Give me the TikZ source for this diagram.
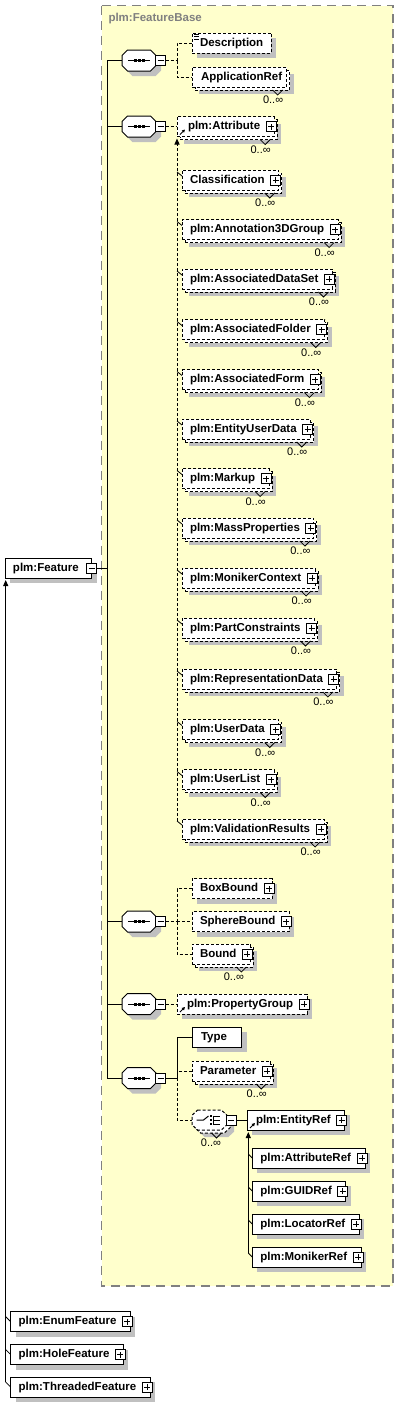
\documentclass[tikz,border=0pt]{standalone}
\usepackage{fontspec}
\setmainfont{Liberation Sans}
\usetikzlibrary{shadows,arrows.meta}
\definecolor{bgyellow}{RGB}{255,255,204}
\definecolor{bordergray}{RGB}{128,128,128}
\definecolor{shgray}{RGB}{192,192,192}
\tikzset{
  elfont/.style={font=\bfseries\fontsize{11.5}{13}\selectfont},
  dsh/.style={dash pattern=on 3pt off 2pt},
  base/.style={elfont, draw=black, fill=white, line width=1pt, minimum height=20pt,
    inner xsep=0pt, inner ysep=0pt, outer sep=0pt, text height=8.5pt, text depth=2.5pt, anchor=west},
  shad/.style={general shadow={fill=shgray, draw=none, shadow xshift=5pt, shadow yshift=-5pt}},
  shadm/.style={general shadow={fill=shgray, draw=none, shadow xshift=7pt, shadow yshift=-7pt},
    general shadow={fill=white, draw=black, line width=1pt, dsh, shadow xshift=3pt, shadow yshift=-3pt}},
  req/.style={base, solid, shad},
  opt/.style={base, dsh, shad},
  optm/.style={base, dsh, shadm},
  pad/.style 2 args={execute at begin node={\hspace*{#1pt}}, execute at end node={\hspace*{#2pt}}},
  mult/.style={font=\fontsize{11}{12}\selectfont, inner sep=0pt, anchor=east},
  anchorbox/.style={draw=none, fill=none, inner sep=0pt, outer sep=0pt, minimum width=#1pt, minimum height=20pt},
  minusbox/.style={draw=black, solid, fill=white, minimum size=10pt, inner sep=0pt, outer sep=0pt,
    line width=1pt, path picture={\draw[black, solid, line width=1pt]
      ([xshift=2pt]path picture bounding box.west) -- ([xshift=-2pt]path picture bounding box.east);}},
  pics/octa/.style={code={
    \path[pic actions] (-11.5,10.5) -- (11.5,10.5) -- (17,5) -- (17,-5) -- (11.5,-10.5)
      -- (-11.5,-10.5) -- (-17,-5) -- (-17,5) -- cycle;}},
  pics/plusicon/.style={code={
    \draw[solid, line width=1pt, fill=white] (-5,-5) rectangle (5,5);
    \draw[solid, line width=1pt] (-3,0) -- (3,0) (0,-3) -- (0,3);}},
  pics/seqicon/.style={code={
    \draw[solid, line width=1pt] (-11,0) -- (11,0);
    \foreach \dx in {-4,0,4} {\fill (\dx-1.5,-1.5) rectangle (\dx+1.5,1.5);}}},
  pics/choiceicon/.style={code={
    \draw[solid, line width=1pt] (-13,0) -- (-6,0) -- (-1,4);
    \foreach \dy in {-4,0,4} {\fill (0.5,\dy-1) rectangle (2.5,\dy+1);}
    \draw[solid, line width=1pt] (4,4.5) -- (4,-4.5) (4,4) -- (10,4) (4,0) -- (10,0) (4,-4) -- (10,-4);}},
  pics/refarrow/.style={code={
    \draw[solid, line width=0.8pt, -{Triangle[length=3pt,width=3pt]}] (3,2) -- (8,7);}},
  pics/notch/.style={code={
    \draw[solid, line width=0.8pt] (-14,-3) -- (-9,-8) -- (-4,-3);}},
  pics/docicon/.style={code={
    \draw[solid, line width=0.7pt] (2,-1) -- (7,-1) (2,-3.5) -- (7,-3.5) (2,-6) -- (7,-6);}},
  uparrow/.style={-{Triangle[length=6pt,width=5pt]}},
}
\begin{document}
\begin{tikzpicture}[x=1pt,y=1pt,line width=1pt]
\useasboundingbox (0,0) rectangle (399,-1403);
\draw[bordergray, line width=1.5pt, dash pattern=on 9pt off 6pt, fill=bgyellow] (101.5,-5.5) rectangle (393,-1286);
\node[elfont, text=bordergray, anchor=west, inner sep=0pt] (fb) at (108,-19) {plm:FeatureBase};

% ---- Feature and its derived types
\node[req, pad={8}{13}] (feat) at (5,-568) {plm:Feature};
\node[minusbox] (featm) at (feat.east) {};
\node[req, pad={8}{14}] (enumf) at (10.7,-1321.7) {plm:EnumFeature};
\node[req, pad={8}{14}] (holef) at (10.7,-1354.5) {plm:HoleFeature};
\node[req, pad={8}{14}] (threadf) at (10.7,-1387) {plm:ThreadedFeature};
\foreach \n in {enumf,holef,threadf} {\pic at ([xshift=-3]\n.east) {plusicon};}

% ---- sequences (octagons)
\foreach \n/\yy in {s1/60.5, s2/126.5, s3/921.5, s4/1004, s5/1078} {
  \pic[fill=shgray, draw=none] at (144,-\yy-5) {octa};
  \pic[fill=white, draw=black, solid, line width=1pt] at (139,-\yy) {octa};
  \node[anchorbox=34] (\n) at (139,-\yy) {};
  \node[minusbox, anchor=west] (\n m) at ([xshift=-0.5]\n.east) {};
  \pic at (\n.center) {seqicon};
}

% ---- sequence 1
\node[opt, pad={8}{8}] (desc) at (192,-43) {Description};
\pic at (desc.north west) {docicon};
\node[optm, pad={9}{4.5}] (appref) at (192,-77) {ApplicationRef};
\node[mult] (appref-m) at ([shift={(-3,-13)}]appref.south east) {0..∞};
\pic at (appref.south east) {notch};

% ---- sequence 2: plm:Attribute and its substitution group
\node[optm, pad={11}{14}] (attr) at (177,-126.5) {plm:Attribute};
\pic at ([xshift=-3]attr.east) {plusicon};
\pic at (attr.south west) {refarrow};
\pic at (attr.south east) {notch};
\node[mult] (attr-m) at ([shift={(-3,-13)}]attr.south east) {0..∞};
\foreach \n/\txt/\yy in {cls/Classification/180, ann/plm:Annotation3DGroup/229.5,
   ads/plm:AssociatedDataSet/279, afo/plm:AssociatedFolder/329.5, afm/plm:AssociatedForm/379.5,
   eud/plm:EntityUserData/429, mku/plm:Markup/478.5, mpr/plm:MassProperties/528,
   mnc/plm:MonikerContext/578, pco/plm:PartConstraints/628, rpd/plm:RepresentationData/679,
   usd/plm:UserData/729.5, usl/plm:UserList/779.5, val/plm:ValidationResults/829} {
  \node[optm, pad={8}{14}] (\n) at (182,-\yy) {\txt};
  \pic at ([xshift=-3]\n.east) {plusicon};
  \pic at (\n.south east) {notch};
  \node[mult] (\n-m) at ([shift={(-3,-13)}]\n.south east) {0..∞};
  \draw[line width=0.8pt] ([shift={(-5,8)}]\n.west) -- ([yshift=4]\n.west);
}

% ---- sequence 3
\node[opt, pad={8}{14}] (boxb) at (192,-888.5) {BoxBound};
\node[opt, pad={8}{14}] (sphb) at (192,-921.5) {SphereBound};
\node[optm, pad={8}{14}] (bound) at (192,-954) {Bound};
\foreach \n in {boxb,sphb,bound} {\pic at ([xshift=-3]\n.east) {plusicon};}
\pic at (bound.south east) {notch};
\node[mult] (bound-m) at ([shift={(-6,-13)}]bound.south east) {0..∞};

% ---- sequence 4
\node[opt, pad={10}{14}] (propg) at (177,-1004) {plm:PropertyGroup};
\pic at ([xshift=-3]propg.east) {plusicon};
\pic at (propg.south west) {refarrow};

% ---- sequence 5
\node[req, pad={9}{15}] (type) at (192,-1037) {Type};
\node[optm, pad={8}{14}] (param) at (192,-1071) {Parameter};
\pic at ([xshift=-3]param.east) {plusicon};
\pic at (param.south east) {notch};
\node[mult] (param-m) at ([shift={(-3,-13)}]param.south east) {0..∞};
% choice (dashed octagon, repeating)
\pic[fill=shgray, draw=none, xscale=35/34, yscale=20/21] at (216.5,-1127) {octa};
\pic[fill=white, draw=black, dsh, line width=1pt, xscale=35/34, yscale=20/21] at (212.5,-1123) {octa};
\pic[fill=white, draw=black, dsh, line width=1pt, xscale=35/34, yscale=20/21] at (209.5,-1120) {octa};
\node[anchorbox=35] (choice) at (209.5,-1120) {};
\pic at (choice.center) {choiceicon};
\draw[solid, line width=0.8pt] (211.5,-1133) -- (216.5,-1138) -- (221.5,-1133);
\node[mult] (choice-m) at ([shift={(12,-23)}]choice.center) {0..∞};
\node[minusbox, anchor=west] (choicem) at ([xshift=-1]choice.east) {};
\node[req, pad={9}{14}] (entref) at (247,-1120) {plm:EntityRef};
\pic at ([xshift=-3]entref.east) {plusicon};
\pic at (entref.south west) {refarrow};
\foreach \n/\txt/\yy in {attref/plm:AttributeRef/1158, guidref/plm:GUIDRef/1191,
   locref/plm:LocatorRef/1224, monref/plm:MonikerRef/1257} {
  \node[req, pad={8}{14}] (\n) at (252.3,-\yy) {\txt};
  \pic at ([xshift=-3]\n.east) {plusicon};
  \draw[line width=0.8pt] ([shift={(-4,4)}]\n.west) -- (\n.west);
}

% ---- connectors
\coordinate (tr1) at (107,-60.5);
\coordinate (tr5) at (107,-1078);
\draw (tr1) -- (tr5);
\draw (tr1) -- (s1.west);
\foreach \n in {s2,s3,s4} {\draw (\n.west) -- (\n.west -| tr1);}
\draw (tr5) -- (s5.west);
\draw (featm.east) -- (featm.east -| tr1);

\coordinate (j1) at (177,-60.5);
\draw[dsh] (s1m.east) -- (j1);
\draw[dsh] (desc.west) -| (j1);
\draw[dsh] (j1) |- (appref.west);

\draw[dsh] (s2m.east) -- (attr.west);
\draw[dsh, uparrow] ([shift={(-5,8)}]val.west) -- ([yshift=-2]attr.south west);

\coordinate (j3) at (177,-921.5);
\draw[dsh] (s3m.east) -- (j3);
\draw[dsh] (boxb.west) -| (j3);
\draw[dsh] (j3) |- (bound.west);
\draw[dsh] (j3) -- (sphb.west);

\draw[dsh] (s4m.east) -- (propg.west);

\coordinate (j5) at (177,-1078);
\draw (s5m.east) -- (j5);
\draw (type.west) -| (j5);
\draw[dsh] (param.west) -- (param.west -| j5);
\draw[dsh] (j5) |- (choice.west);
\draw (choicem.east) -- (entref.west);
\draw[uparrow] ([shift={(-4,4)}]monref.west) -- ([shift={(1.3,-2)}]entref.south west);

\draw[uparrow] ([shift={(-5,5)}]threadf.west) -- ([shift={(0.7,-2)}]feat.south west);
\foreach \n in {enumf,holef,threadf} {\draw[line width=0.8pt] ([shift={(-5,5)}]\n.west) -- (\n.west);}
\end{tikzpicture}
\end{document}
